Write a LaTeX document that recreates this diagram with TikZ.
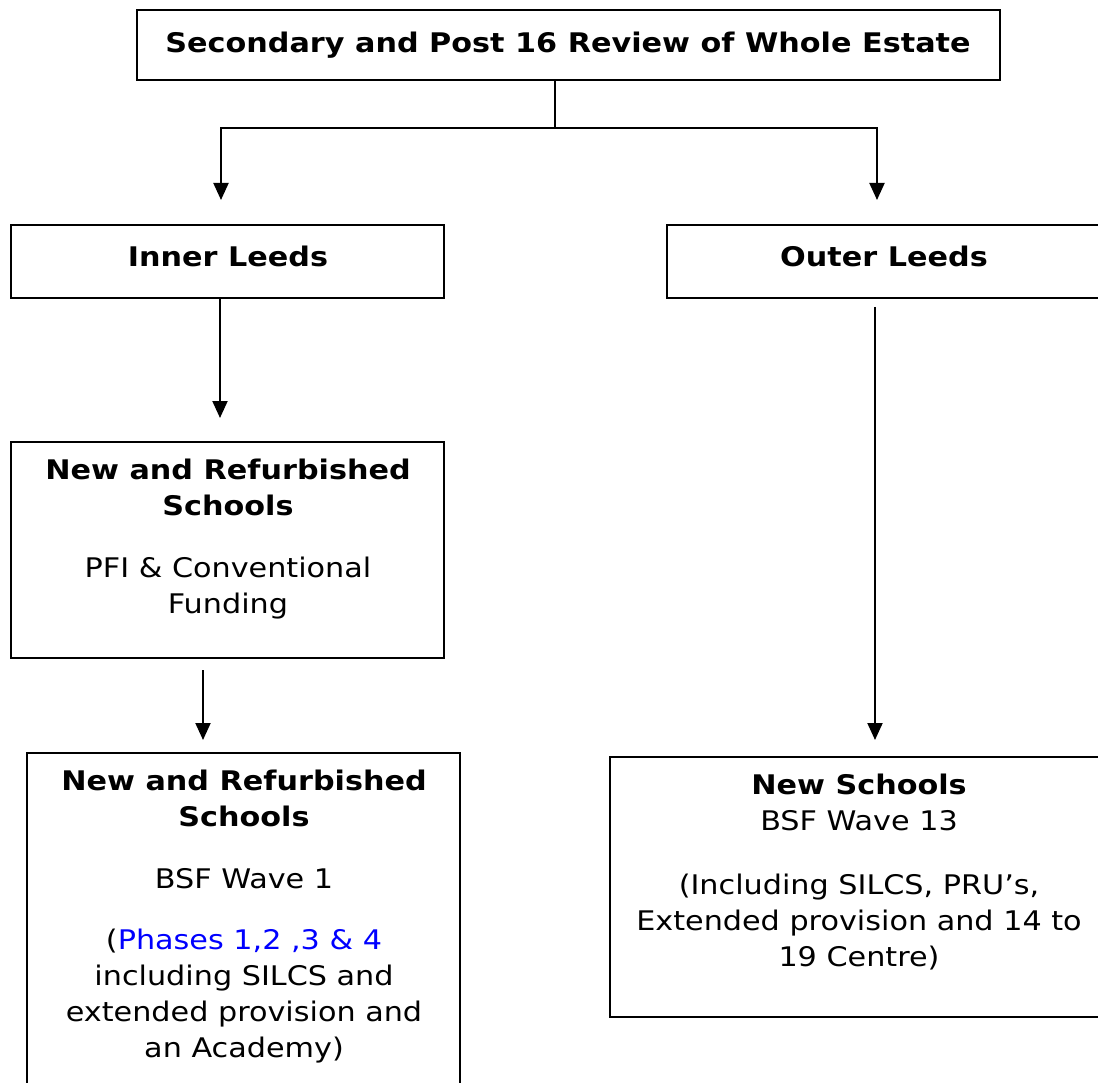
\documentclass[tikz,border=0pt]{standalone}
\usepackage{fontspec}
\setmainfont[FakeStretch=1.12]{DejaVu Sans}
\usetikzlibrary{arrows.meta}
\begin{document}
\begin{tikzpicture}[x=1pt,y=-1pt,
  box/.style={draw,line width=2.2pt,rectangle,inner sep=0pt,outer sep=0pt},
  txt/.style={align=center,inner sep=0pt,font=\fontsize{27}{36}\selectfont},
  conn/.style={line width=2pt},
  arr/.style={line width=2pt,-{Triangle[width=15pt,length=17pt]}}]
\clip (0,0) rectangle (1098,1083);
% boxes
\node[box,minimum width=863pt,minimum height=70pt] (top) at (568.5,45) {};
\node[box,minimum width=433pt,minimum height=73pt] (inner) at (227.5,261.5) {};
\node[box,minimum width=432pt,minimum height=73pt] (outer) at (883,261.5) {};
\node[box,minimum width=433pt,minimum height=216pt] (nrs) at (227.5,550) {};
\node[box,minimum width=433pt,minimum height=364pt] (bsf1) at (243.5,935) {};
\node[box,minimum width=498pt,minimum height=260pt] (bsf13) at (859,887) {};
% texts
\node[txt] (ttop) at (568,45) {\textbf{Secondary and Post 16 Review of Whole Estate}};
\node[txt] (tinner) at (228,256) {\textbf{Inner Leeds}};
\node[txt] (touter) at (884,256) {\textbf{Outer Leeds}};
\node[txt] (tnrs) at (228,539) {\textbf{New and Refurbished}\\\textbf{Schools}\\[26pt]PFI \& Conventional\\Funding};
\node[txt] (tbsf1) at (244,917) {\textbf{New and Refurbished}\\\textbf{Schools}\\[26pt]BSF Wave 1\\[25pt](\textcolor{blue}{Phases 1,2 ,3 \& 4}\\including SILCS and\\extended provision and\\an Academy)};
\node[txt] (tbsf13) at (859,872) {\textbf{New Schools}\\BSF Wave 13\\[28pt](Including SILCS, PRU’s,\\Extended provision and 14 to\\19 Centre)};
% connector points
\coordinate (jn) at (555,128);
\coordinate (a1) at (221,200);
\coordinate (a2) at (877,200);
\coordinate (a3) at (220,418);
\coordinate (s4) at (203,670);
\coordinate (a4) at (203,740);
\coordinate (s5) at (875,307);
\coordinate (a5) at (875,740);
% connectors
\draw[conn] (top.south -| jn) -- (jn);
\draw[arr] (jn) -| (a1);
\draw[arr] (jn) -| (a2);
\draw[arr] (inner.south -| a3) -- (a3);
\draw[arr] (s4) -- (a4);
\draw[arr] (s5) -- (a5);
\end{tikzpicture}
\end{document}
